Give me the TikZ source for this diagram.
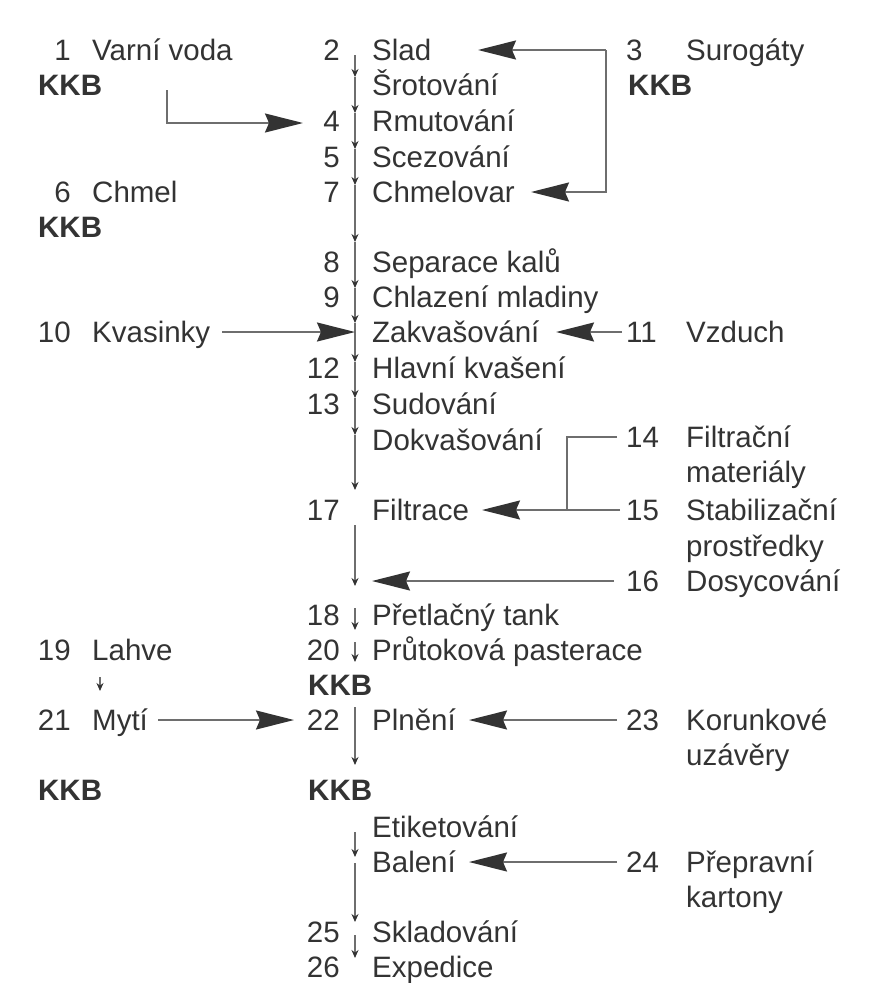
\documentclass[tikz,border=0pt]{standalone}
\usepackage{fontspec}
\setmainfont{Liberation Sans}
\usetikzlibrary{arrows.meta}
\definecolor{ink}{HTML}{333333}
\definecolor{wiregray}{HTML}{6E6E6E}
\tikzset{
  stage/.style={anchor=base west,inner sep=0pt,text=ink},
  numl/.style={anchor=base east,inner sep=0pt,text=ink},
  numr/.style={anchor=base west,inner sep=0pt,text=ink},
  kkb/.style={anchor=base west,inner sep=0pt,
    font=\fontsize{29.5}{35}\selectfont\bfseries,text=ink},
  flow/.style={draw=wiregray,line width=1.3pt,-{Stealth[length=8pt,width=7pt,color=ink]}},
  feed/.style={draw=wiregray,line width=1.8pt,-{Stealth[length=38pt,width=19pt,inset=4pt,color=ink]}},
  joint/.style={draw=wiregray,line width=1.8pt}
}
\begin{document}
\begin{tikzpicture}[x=1pt,y=-1pt,font=\fontsize{29.5}{35}\selectfont]
  \useasboundingbox (0,0) rectangle (872,983);
  % left column
  \draw
    (71,60) node[numl] (n1) {1}
    (92,60) node[stage] (voda) {Varní voda}
    (38,95) node[kkb] (kkb1) {KKB}
    (71,202) node[numl] (n6) {6}
    (92,202) node[stage] (chmel) {Chmel}
    (38,237) node[kkb] (kkb6) {KKB}
    (71,342) node[numl] (n10) {10}
    (92,342) node[stage] (kvas) {Kvasinky}
    (71,660) node[numl] (n19) {19}
    (92,660) node[stage] (lahve) {Lahve}
    (71,730) node[numl] (n21) {21}
    (92,730) node[stage] (myti) {Mytí}
    (38,800) node[kkb] (kkb21) {KKB};
  % main column
  \draw
    (340,60) node[numl] (n2) {2}
    (372,60) node[stage] (slad) {Slad}
    (372,95) node[stage] (srot) {Šrotování}
    (340,131) node[numl] (n4) {4}
    (372,131) node[stage] (rmut) {Rmutování}
    (340,167) node[numl] (n5) {5}
    (372,167) node[stage] (scez) {Scezování}
    (340,202) node[numl] (n7) {7}
    (372,202) node[stage] (chvar) {Chmelovar}
    (340,272) node[numl] (n8) {8}
    (372,272) node[stage] (sep) {Separace kalů}
    (340,307) node[numl] (n9) {9}
    (372,307) node[stage] (chlaz) {Chlazení mladiny}
    (372,342) node[stage] (zakv) {Zakvašování}
    (340,378) node[numl] (n12) {12}
    (372,378) node[stage] (hlav) {Hlavní kvašení}
    (340,414) node[numl] (n13) {13}
    (372,414) node[stage] (sud) {Sudování}
    (372,450) node[stage] (dokv) {Dokvašování}
    (340,520) node[numl] (n17) {17}
    (372,520) node[stage] (filt) {Filtrace}
    (340,625) node[numl] (n18) {18}
    (372,625) node[stage] (tank) {Přetlačný tank}
    (340,660) node[numl] (n20) {20}
    (372,660) node[stage] (past) {Průtoková pasterace}
    (308,695) node[kkb] (kkb20) {KKB}
    (340,730) node[numl] (n22) {22}
    (372,730) node[stage] (plneni) {Plnění}
    (308,800) node[kkb] (kkb22) {KKB}
    (372,837) node[stage] (etik) {Etiketování}
    (372,872) node[stage] (bal) {Balení}
    (340,942) node[numl] (n25) {25}
    (372,942) node[stage] (sklad) {Skladování}
    (340,977) node[numl] (n26) {26}
    (372,977) node[stage] (exp) {Expedice};
  % right column
  \draw
    (626,60) node[numr] (n3) {3}
    (686,60) node[stage] (surog) {Surogáty}
    (628,95) node[kkb] (kkb3) {KKB}
    (626,342) node[numr] (n11) {11}
    (686,342) node[stage] (vzduch) {Vzduch}
    (626,447) node[numr] (n14) {14}
    (686,447) node[stage] (filtm) {Filtrační}
    (686,482) node[stage] (filtm2) {materiály}
    (626,520) node[numr] (n15) {15}
    (686,520) node[stage] (stab) {Stabilizační}
    (686,556) node[stage] (stab2) {prostředky}
    (626,591) node[numr] (n16) {16}
    (686,591) node[stage] (dosyc) {Dosycování}
    (626,730) node[numr] (n23) {23}
    (686,730) node[stage] (koru) {Korunkové}
    (686,765) node[stage] (koru2) {uzávěry}
    (626,872) node[numr] (n24) {24}
    (686,872) node[stage] (prep) {Přepravní}
    (686,907) node[stage] (prep2) {kartony};
  % spine points
  \foreach \name/\y in {s0/55,s1/77,s2/113,s3/149,s4/185,s5/242,s6/288,
      s7/323,s8/362,s9/398,s10/435,s11/490,s12/525,s13/586,s14/608,
      s15/630,s16/642,s17/662,s18/707,s19/765,s20/832,s21/857,s22/863,
      s23/922,s24/935,s25/958}
    \coordinate (\name) at (355,\y);
  \begin{scope}[flow]
    \foreach \a/\b in {s0/s1,s1/s2,s2/s3,s3/s4,s4/s5,s5/s6,s6/s7,s7/s8,
        s8/s9,s9/s10,s10/s11,s12/s13,s14/s15,s16/s17,s18/s19,s20/s21,
        s22/s23,s24/s25}
      \draw (\a) -- (\b);
  \end{scope}
  % feed points
  \coordinate (f1) at (167,90);
  \coordinate (t4) at (303,123);
  \coordinate (b3) at (606,50);
  \coordinate (t2) at (478,50);
  \coordinate (t7) at (531,192);
  \coordinate (f10) at (222,332);
  \coordinate (t10) at (355,332);
  \coordinate (f11) at (622,332);
  \coordinate (t11) at (556,332);
  \coordinate (f14) at (617,437);
  \coordinate (j14) at (567,437);
  \coordinate (f15) at (620,510);
  \coordinate (t17) at (482,510);
  \coordinate (f16) at (614,581);
  \coordinate (t16) at (372,581);
  \coordinate (l19) at (100,677);
  \coordinate (l21) at (100,691);
  \coordinate (f21) at (158,720);
  \coordinate (t22) at (294,720);
  \coordinate (f23) at (617,720);
  \coordinate (t23) at (469,720);
  \coordinate (f24) at (617,862);
  \coordinate (t24) at (469,862);
  \begin{scope}[feed]
    \draw (f1) |- (t4);
    \draw (b3) -- (t2);
    \draw (b3) |- (t7);
    \draw (f10) -- (t10);
    \draw (f11) -- (t11);
    \draw (f15) -- (t17);
    \draw (f16) -- (t16);
    \draw (f21) -- (t22);
    \draw (f23) -- (t23);
    \draw (f24) -- (t24);
  \end{scope}
  \draw[joint] (f14) -- (j14) -- (j14 |- f15);
  \draw[flow] (l19) -- (l21);
\end{tikzpicture}
\end{document}
